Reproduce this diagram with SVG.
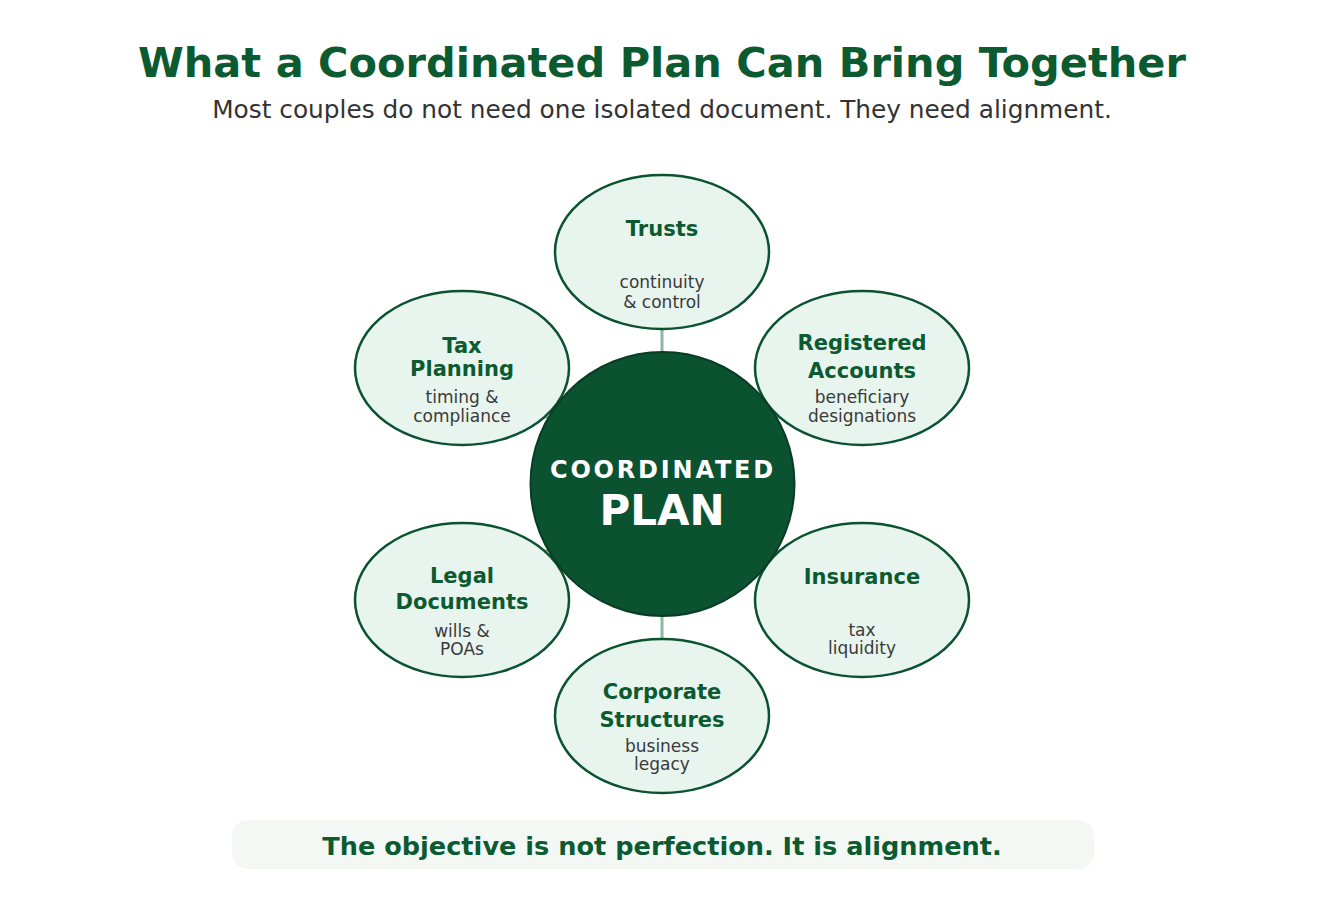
<svg xmlns="http://www.w3.org/2000/svg" width="1325" height="911" viewBox="0 0 1325 911">
<style>
text{font-family:"DejaVu Sans",Verdana,sans-serif;text-anchor:middle}
.title{font-size:41.5px;font-weight:bold;fill:#0b5a30}
.sub{font-size:24.8px;fill:#333333}
.node{fill:#e8f4ee;stroke:#0b5230;stroke-width:2.5}
.nt{font-size:21px;font-weight:bold;fill:#0b5a30}
.ns{font-size:17px;fill:#3a3a3a}
.conn{stroke:#8fb8a2;stroke-width:3}
.banner{fill:#f3f8f5}
.bt{font-size:25.6px;font-weight:bold;fill:#0b5a30}
</style>
<rect width="1325" height="911" fill="#ffffff"/>
<text class="title" x="662" y="77">What a Coordinated Plan Can Bring Together</text>
<text class="sub" x="662" y="118">Most couples do not need one isolated document. They need alignment.</text>
<g id="connectors">
<line class="conn" x1="662" y1="484" x2="662" y2="252"/>
<line class="conn" x1="662" y1="484" x2="462" y2="368"/>
<line class="conn" x1="662" y1="484" x2="862" y2="368"/>
<line class="conn" x1="662" y1="484" x2="462" y2="600"/>
<line class="conn" x1="662" y1="484" x2="862" y2="600"/>
<line class="conn" x1="662" y1="484" x2="662" y2="716"/>
</g>
<g id="trusts">
<ellipse class="node" cx="662" cy="252" rx="107" ry="77"/>
<text class="nt" x="662" y="236">Trusts</text>
<text class="ns" x="662" y="288">continuity</text>
<text class="ns" x="662" y="308">&amp; control</text>
</g>
<g id="tax-planning">
<ellipse class="node" cx="462" cy="368" rx="107" ry="77"/>
<text class="nt" x="462" y="353">Tax</text>
<text class="nt" x="462" y="376">Planning</text>
<text class="ns" x="462" y="403">timing &amp;</text>
<text class="ns" x="462" y="422">compliance</text>
</g>
<g id="registered-accounts">
<ellipse class="node" cx="862" cy="368" rx="107" ry="77"/>
<text class="nt" x="862" y="350">Registered</text>
<text class="nt" x="862" y="378">Accounts</text>
<text class="ns" x="862" y="403">beneficiary</text>
<text class="ns" x="862" y="422">designations</text>
</g>
<g id="legal-documents">
<ellipse class="node" cx="462" cy="600" rx="107" ry="77"/>
<text class="nt" x="462" y="583">Legal</text>
<text class="nt" x="462" y="609">Documents</text>
<text class="ns" x="462" y="637">wills &amp;</text>
<text class="ns" x="462" y="655">POAs</text>
</g>
<g id="insurance">
<ellipse class="node" cx="862" cy="600" rx="107" ry="77"/>
<text class="nt" x="862" y="584">Insurance</text>
<text class="ns" x="862" y="636">tax</text>
<text class="ns" x="862" y="654">liquidity</text>
</g>
<g id="corporate-structures">
<ellipse class="node" cx="662" cy="716" rx="107" ry="77"/>
<text class="nt" x="662" y="699">Corporate</text>
<text class="nt" x="662" y="727">Structures</text>
<text class="ns" x="662" y="752">business</text>
<text class="ns" x="662" y="770">legacy</text>
</g>
<g id="center">
<circle cx="662.5" cy="484" r="132" fill="#0b5230" stroke="#083d24" stroke-width="2"/>
<text x="663" y="478" font-size="24" font-weight="bold" fill="#ffffff" letter-spacing="2.8">COORDINATED</text>
<text x="662" y="525" font-size="42" font-weight="bold" fill="#ffffff">PLAN</text>
</g>
<g id="banner">
<rect class="banner" x="232" y="820" width="862" height="49" rx="16"/>
<text class="bt" x="662" y="855">The objective is not perfection. It is alignment.</text>
</g>
</svg>
